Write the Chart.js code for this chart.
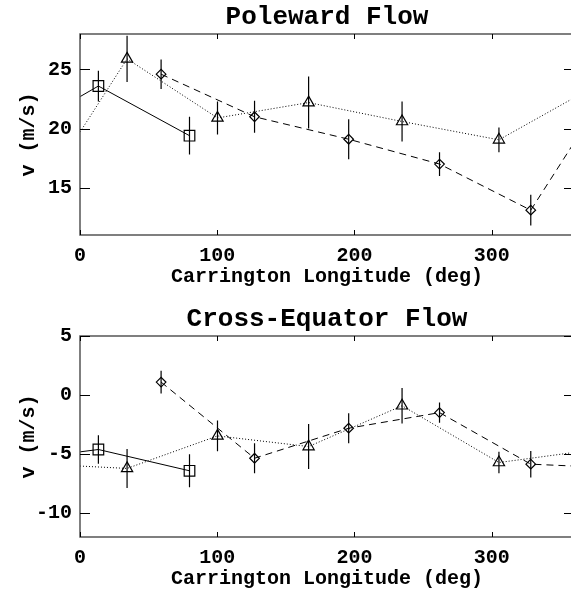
<!DOCTYPE html>
<html>
<head>
<meta charset="utf-8">
<script src="https://cdn.jsdelivr.net/npm/chart.js@4.4.0/dist/chart.umd.min.js"></script>
<style>
  html, body { margin: 0; padding: 0; background: #fff; overflow: hidden; }
  canvas { position: absolute; left: 0; }
  #poleChart { top: 0; }
  #crossChart { top: 302px; }
</style>
</head>
<body>
<canvas id="poleChart" width="574" height="296"></canvas>
<canvas id="crossChart" width="574" height="296"></canvas>
<script>
// longitudes (deg) of the three symbol series
const lonSquare = [13.4, 79.8];
const lonTriangle = [34.3, 100.2, 166.6, 234.7, 305.3];
const lonDiamond = [59.1, 127.2, 195.8, 262.0, 328.5];
const lonTicks = [0, 100, 200, 300];

// Poleward flow (m/s) with error bars
const poleSquare = [23.6, 19.4];
const poleSquareErr = [1.3, 1.6];
const poleTriangle = [25.9, 20.9, 22.2, 20.6, 19.05];
const poleTriangleErr = [1.95, 1.4, 2.2, 1.7, 1.05];
const poleDiamond = [24.6, 21.0, 19.1, 17.0, 13.1];
const poleDiamondErr = [1.25, 1.35, 1.7, 1.0, 1.3];
// values where the wrapped lines cross lon 0 / lon 360 (null = no line)
const poleSquareEdge = [22.7, null];
const poleTriangleEdge = [19.7, 22.6];
const poleDiamondEdge = [null, 18.8];
const poleTicks = [15, 20, 25];

// Cross-equator flow (m/s) with error bars
const crossSquare = [-4.6, -6.4];
const crossSquareErr = [1.2, 1.4];
const crossTriangle = [-6.2, -3.45, -4.35, -0.9, -5.7];
const crossTriangleErr = [1.65, 1.3, 1.9, 1.5, 0.9];
const crossDiamond = [1.1, -5.34, -2.8, -1.48, -5.84];
const crossDiamondErr = [0.97, 1.27, 1.27, 0.85, 1.12];
const crossSquareEdge = [-4.8, null];
const crossTriangleEdge = [-6.0, -4.85];
const crossDiamondEdge = [null, -6.0];
const crossTicks = [-10, -5, 0, 5];

const FONT = "'Liberation Mono', 'DejaVu Sans Mono', monospace";

function buildPoints(lons, vals, errs, edge) {
    const pts = lons.map((lon, i) => ({ x: lon, y: vals[i], e: errs[i] }));
    if (edge[0] !== null) pts.unshift({ x: 0, y: edge[0] });
    if (edge[1] !== null) pts.push({ x: 360, y: edge[1] });
    return pts;
}

function makeDataset(points, style, radius, dash) {
    return {
        data: points,
        showLine: true,
        borderColor: '#000',
        borderWidth: 1,
        borderDash: dash,
        pointStyle: style,
        pointRadius: c => (c.raw && c.raw.e != null) ? radius : 0,
        pointHoverRadius: 0,
        pointBackgroundColor: 'rgba(0,0,0,0)',
        pointBorderColor: '#000',
        pointBorderWidth: 1.2
    };
}

// vertical error bars, drawn through the scales
const errorBars = {
    id: 'errorBars',
    afterDatasetsDraw(chart) {
        const { ctx, chartArea: a, scales: { x, y } } = chart;
        ctx.save();
        ctx.beginPath();
        ctx.rect(a.left, a.top, a.right - a.left, a.bottom - a.top);
        ctx.clip();
        ctx.strokeStyle = '#000';
        ctx.lineWidth = 1.2;
        ctx.beginPath();
        chart.data.datasets.forEach(ds => ds.data.forEach(p => {
            if (p.e == null) return;
            const px = x.getPixelForValue(p.x);
            ctx.moveTo(px, y.getPixelForValue(p.y - p.e));
            ctx.lineTo(px, y.getPixelForValue(p.y + p.e));
        }));
        ctx.stroke();
        ctx.restore();
    }
};

// box round the plot with inward ticks on all four sides
const frameTicks = {
    id: 'frameTicks',
    afterDraw(chart) {
        const { ctx, chartArea: a, scales: { x, y } } = chart;
        ctx.save();
        ctx.strokeStyle = '#555';
        ctx.lineWidth = 1.5;
        ctx.strokeRect(a.left, a.top, a.right - a.left, a.bottom - a.top);
        ctx.strokeStyle = '#000';
        ctx.lineWidth = 1;
        ctx.beginPath();
        x.ticks.forEach(t => {
            const px = Math.round(x.getPixelForValue(t.value)) + 0.5;
            ctx.moveTo(px, a.bottom); ctx.lineTo(px, a.bottom - 5);
            ctx.moveTo(px, a.top); ctx.lineTo(px, a.top + 5);
        });
        y.ticks.forEach(t => {
            const py = Math.round(y.getPixelForValue(t.value)) + 0.5;
            ctx.moveTo(a.left, py); ctx.lineTo(a.left + 10, py);
            ctx.moveTo(a.right, py); ctx.lineTo(a.right - 10, py);
        });
        ctx.stroke();
        ctx.restore();
    }
};

function makeChart(id, titleText, yMin, yMax, yTicks, datasets) {
    const ctx = document.getElementById(id).getContext('2d');
    return new Chart(ctx, {
        type: 'line',
        data: { datasets: datasets },
        plugins: [errorBars, frameTicks],
        options: {
            responsive: false,
            animation: false,
            devicePixelRatio: 1,
            events: [],
            layout: { padding: 0, autoPadding: false }, // no extra room for the markers
            plugins: {
                legend: { display: false },
                tooltip: { enabled: false },
                title: {
                    display: true,
                    text: titleText,
                    fullSize: false,
                    color: '#000',
                    font: { family: FONT, size: 26, weight: 'bold' },
                    padding: { top: 2, bottom: 0.8 }
                }
            },
            scales: {
                x: {
                    type: 'linear',
                    min: 0,
                    max: 360,
                    grid: { display: false, drawTicks: false },
                    border: { display: false },
                    afterBuildTicks: s => { s.ticks = lonTicks.map(v => ({ value: v })); },
                    afterFit: s => {
                        s.height = 61;
                        s.paddingLeft = 0;
                        s.paddingRight = 0;
                    },
                    ticks: {
                        color: '#000',
                        font: { family: FONT, size: 20, weight: 'bold' },
                        padding: 9,
                        maxRotation: 0,
                        autoSkip: false
                    },
                    title: {
                        display: true,
                        text: 'Carrington Longitude (deg)',
                        color: '#000',
                        font: { family: FONT, size: 20, weight: 'bold' },
                        padding: { top: 0, bottom: 7 }
                    }
                },
                y: {
                    type: 'linear',
                    min: yMin,
                    max: yMax,
                    grid: { display: false, drawTicks: false },
                    border: { display: false },
                    afterBuildTicks: s => { s.ticks = yTicks.map(v => ({ value: v })); },
                    afterFit: s => {
                        s.width = 80;
                        s.paddingTop = 0;
                        s.paddingBottom = 0;
                    },
                    ticks: {
                        color: '#000',
                        font: { family: FONT, size: 20, weight: 'bold' },
                        padding: 8,
                        autoSkip: false
                    },
                    title: {
                        display: true,
                        text: 'v (m/s)',
                        color: '#000',
                        font: { family: FONT, size: 20, weight: 'bold' },
                        padding: { top: 17, bottom: 0 }
                    }
                }
            }
        }
    });
}

makeChart('poleChart', 'Poleward Flow', 11, 28, poleTicks, [
    makeDataset(buildPoints(lonSquare, poleSquare, poleSquareErr, poleSquareEdge), 'rect', 7.5, []),
    makeDataset(buildPoints(lonTriangle, poleTriangle, poleTriangleErr, poleTriangleEdge), 'triangle', 6.5, [1, 2]),
    makeDataset(buildPoints(lonDiamond, poleDiamond, poleDiamondErr, poleDiamondEdge), 'rectRot', 4.8, [7, 5])
]);

makeChart('crossChart', 'Cross-Equator Flow', -12, 5, crossTicks, [
    makeDataset(buildPoints(lonSquare, crossSquare, crossSquareErr, crossSquareEdge), 'rect', 7.5, []),
    makeDataset(buildPoints(lonTriangle, crossTriangle, crossTriangleErr, crossTriangleEdge), 'triangle', 6.5, [1, 2]),
    makeDataset(buildPoints(lonDiamond, crossDiamond, crossDiamondErr, crossDiamondEdge), 'rectRot', 4.8, [7, 5])
]);
</script>
</body>
</html>
